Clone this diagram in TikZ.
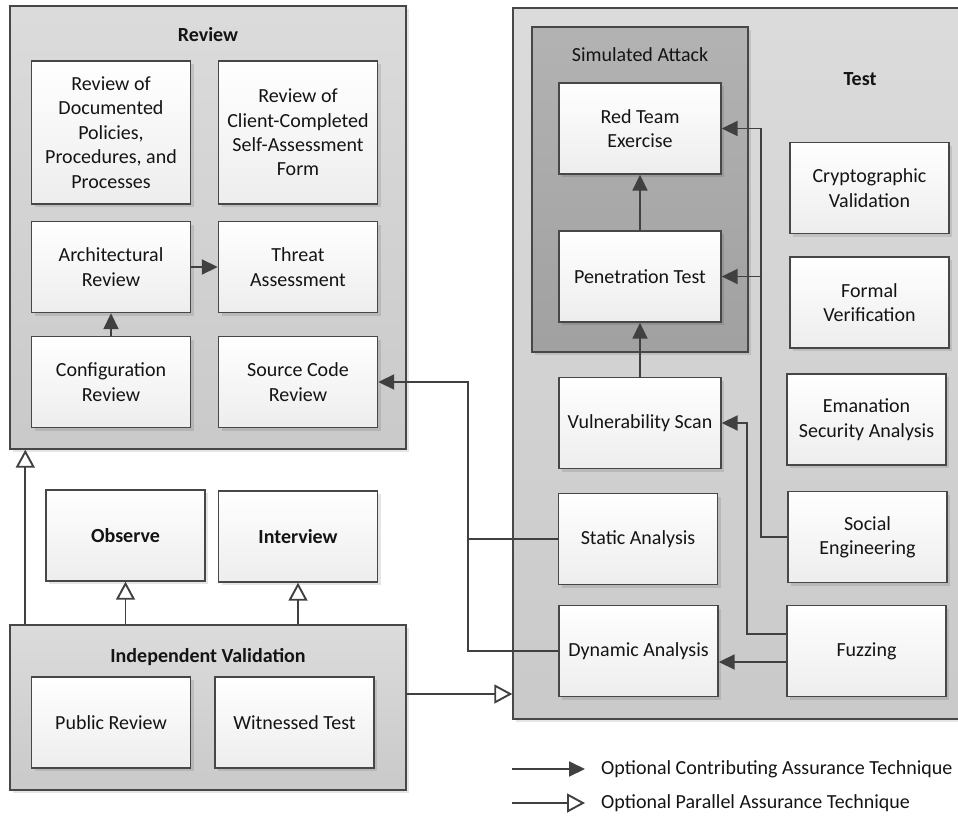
\documentclass[tikz,border=0pt]{standalone}
\usepackage{fontspec}
\setmainfont{Carlito}
\usetikzlibrary{arrows.meta,shadows,calc}
\begin{document}
\begin{tikzpicture}[x=1pt,y=-1pt,
  every node/.style={font=\fontsize{20}{24.4}\selectfont, text=black!92},
  shd/.style={drop shadow={shadow xshift=3pt,shadow yshift=-3pt,fill=black,opacity=0.10}},
  cont/.style={draw=black!72, line width=1.4pt, top color=black!14, bottom color=black!21, inner sep=0pt, shd},
  darkcont/.style={cont, top color=black!30, bottom color=black!37},
  box/.style={draw=black!72, line width=1.4pt, top color=white, bottom color=black!7, align=center,
    minimum width=159pt, minimum height=91pt, inner sep=0pt, shd},
  boldtxt/.style={font=\fontsize{20}{24.4}\selectfont\bfseries},
  arr/.style={draw=black!75, line width=1.9pt, -{Triangle[length=16pt,width=15pt]}},
  oarr/.style={draw=black!75, line width=1.9pt, -{Triangle[open,length=18pt,width=19pt,fill=white]}},
  ln/.style={draw=black!75, line width=1.9pt}
]
\useasboundingbox (0,0) rectangle (958,816);
\clip (0,0) rectangle (958,816);

% containers
\node[cont, minimum width=396pt, minimum height=443pt] (rev) at (208,227.5) {};
\node[cont, minimum width=452pt, minimum height=711pt] (test) at (739,363.5) {};
\node[darkcont, minimum width=216pt, minimum height=325pt] (sim) at (640,189.5) {};
\node[cont, minimum width=396pt, minimum height=165pt] (iv) at (208,707.5) {};

% titles
\node[boldtxt] (revt) at (208,35) {Review};
\node[boldtxt] (testt) at (860,79) {Test};
\node (simt) at (640,55) {Simulated Attack};
\node[boldtxt] (ivt) at (208,657) {Independent Validation};

% review boxes
\node[box, minimum height=143pt] (rdoc) at (111,132.5) {Review of\\Documented\\Policies,\\Procedures, and\\Processes};
\node[box, minimum height=143pt] (rcli) at (298,132.5) {Review of\\Client-Completed\\Self-Assessment\\Form};
\node[box] (arch) at (111,267) {Architectural\\Review};
\node[box] (thr) at (298,267) {Threat\\Assessment};
\node[box] (conf) at (111,382) {Configuration\\Review};
\node[box] (src) at (298,382) {Source Code\\Review};

% observe / interview
\node[box, boldtxt] (obs) at (125.5,535.5) {Observe};
\node[box, boldtxt] (intv) at (298,536.5) {Interview};

% independent validation
\node[box] (pub) at (111,722.5) {Public Review};
\node[box] (wit) at (294.5,722.5) {Witnessed Test};

% test boxes
\node[box, minimum width=162pt] (red) at (640,128.5) {Red Team\\Exercise};
\node[box, minimum width=162pt] (pen) at (640,276.5) {Penetration Test};
\node[box, minimum width=162pt] (vul) at (640,423) {Vulnerability Scan};
\node[box] (sta) at (638,539) {Static Analysis};
\node[box] (dyn) at (638.5,651) {Dynamic Analysis};
\node[box] (cry) at (869.5,188) {Cryptographic\\Validation};
\node[box] (frm) at (869.5,302.5) {Formal\\Verification};
\node[box] (ema) at (866.5,419.5) {Emanation\\Security Analysis};
\node[box] (soc) at (867.5,537) {Social\\Engineering};
\node[box] (fuz) at (866.5,651) {Fuzzing};

% connectors in review
\draw[arr] (conf.north) -- (arch.south);
\draw[arr] (arch.east) -- (thr.west);

% connectors in test
\draw[arr] (pen.north) -- (red.south);
\draw[arr] (vul.north) -- (pen.south);
\coordinate (sx) at ($(soc.west)+(-26,0)$);
\draw[arr] (soc.west) -- (sx) |- (red.east);
\draw[arr] (sx |- pen.east) -- (pen.east);
\coordinate (fz1) at ($(fuz.west)+(0,-17)$);
\coordinate (fx) at ($(fz1)+(-39,0)$);
\draw[arr] (fz1) -- (fx) |- (vul.east);
\coordinate (fz2) at ($(fuz.west)+(0,11)$);
\draw[arr] (fz2) -- (fz2 -| dyn.east);

% static/dynamic -> source code review
\coordinate (sc) at (468,539);
\draw[ln] (sta.west) -- (sta.west -| sc);
\draw[arr] (dyn.west) -- (dyn.west -| sc) |- (src.east);

% open-triangle arrows
\draw[oarr] ($(iv.north west)+(16,0)$) -- ($(rev.south west)+(16,0)$);
\draw[oarr] (obs.south |- iv.north) -- (obs.south);
\draw[oarr] (intv.south |- iv.north) -- (intv.south);
\coordinate (ivr) at ($(iv.east)+(0,-13.5)$);
\draw[oarr] (ivr) -- (ivr -| test.west);

% legend
\coordinate (la1) at (512,769);
\coordinate (lb1) at (585,769);
\coordinate (la2) at (512,803);
\coordinate (lb2) at (585,803);
\draw[arr] (la1) -- (lb1);
\draw[oarr] (la2) -- (lb2);
\node[anchor=west, inner sep=0pt] (lt1) at (601,769) {Optional Contributing Assurance Technique};
\node[anchor=west, inner sep=0pt] (lt2) at (601,803) {Optional Parallel Assurance Technique};
\end{tikzpicture}
\end{document}
